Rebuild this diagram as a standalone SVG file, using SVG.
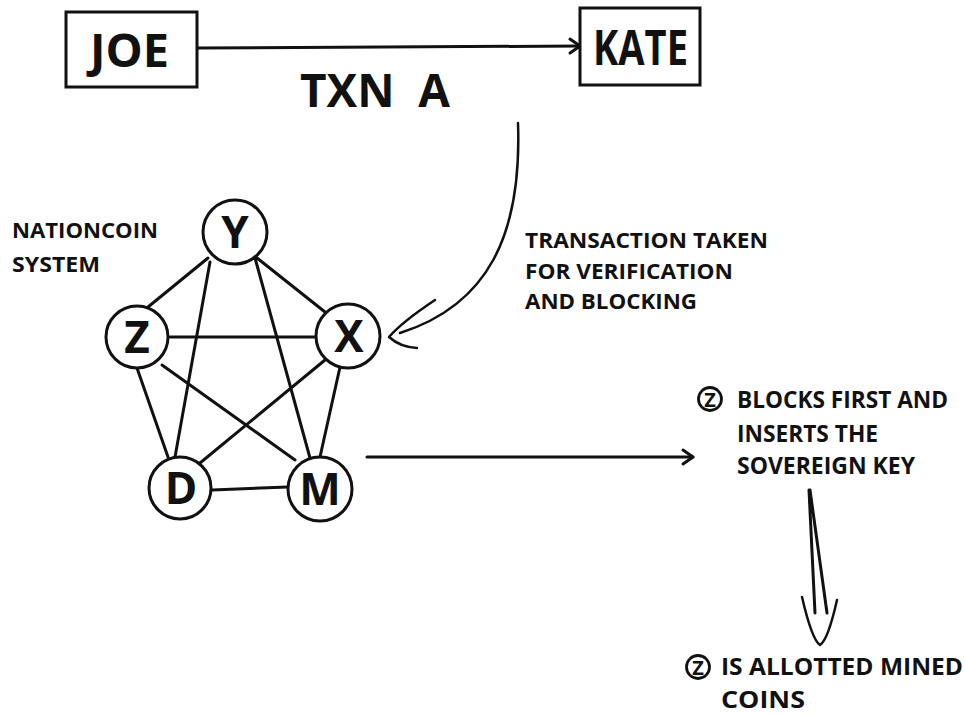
<svg xmlns="http://www.w3.org/2000/svg" width="965" height="715" viewBox="0 0 965 715">
<defs>
<style>
.t{font-family:"Open Sans",Lato,"Liberation Sans",sans-serif;font-weight:700;fill:#111}
.box{fill:#fff;stroke:#111;stroke-width:3}
.node{fill:#fff;stroke:#111;stroke-width:3}
.edge{stroke:#111;stroke-width:3;fill:none;stroke-linecap:round}
.thin{stroke:#111;stroke-width:2.5;fill:none;stroke-linecap:round;stroke-linejoin:round}
.cz{fill:none;stroke:#111;stroke-width:2.8}
</style>
<marker id="arr" markerWidth="20" markerHeight="20" refX="14" refY="10" orient="auto" markerUnits="userSpaceOnUse">
<polyline points="4,3 14,10 4,17" fill="none" stroke="#111" stroke-width="3" stroke-linecap="round" stroke-linejoin="round"/>
</marker>
</defs>
<rect width="965" height="715" fill="#fff"/>

<g id="connectors">
<line class="edge" x1="197" y1="48" x2="580" y2="46" marker-end="url(#arr)"/>
<path class="thin" d="M518,123 C522,235 488,305 400,333"/>
<path class="thin" d="M435,300 Q402,322 389,337 Q400,347 417,348"/>
<line class="edge" x1="208" y1="258" x2="148" y2="307"/>
<line class="edge" x1="257" y1="258" x2="325" y2="312"/>
<line class="edge" x1="210" y1="262" x2="175" y2="457"/>
<line class="edge" x1="255" y1="258" x2="310" y2="458"/>
<line class="edge" x1="170" y1="337" x2="317" y2="337"/>
<line class="edge" x1="137" y1="368" x2="168" y2="457"/>
<line class="edge" x1="162" y1="365" x2="295" y2="460"/>
<line class="edge" x1="325" y1="360" x2="200" y2="463"/>
<line class="edge" x1="340" y1="367" x2="320" y2="457"/>
<line class="edge" x1="212" y1="490" x2="288" y2="487"/>
<line class="edge" x1="367" y1="457" x2="693" y2="457" marker-end="url(#arr)"/>
<path class="edge" d="M809,490 L815,613 M810,490 L827,613"/>
<path class="thin" d="M802,597 Q812,640 820,645 Q828,640 837,600"/>
</g>

<g id="joe">
<rect class="box" x="66" y="12" width="131" height="75"/>
<text class="t" x="90" y="67" font-size="46" textLength="79" lengthAdjust="spacingAndGlyphs">JOE</text>
</g>
<g id="kate">
<rect class="box" x="580" y="8" width="120" height="77"/>
<text class="t" x="593" y="65" font-size="49" textLength="95" lengthAdjust="spacingAndGlyphs">KATE</text>
</g>
<g id="txn">
<text class="t" x="300" y="107" font-size="46" textLength="150" lengthAdjust="spacingAndGlyphs" xml:space="preserve">TXN  A</text>
</g>
<g id="system-label">
<text class="t" x="12" y="238" font-size="21" textLength="146" lengthAdjust="spacingAndGlyphs">NATIONCOIN</text>
<text class="t" x="12" y="272" font-size="21" textLength="88" lengthAdjust="spacingAndGlyphs">SYSTEM</text>
</g>
<g id="verification-label">
<text class="t" x="525" y="248" font-size="22" textLength="243" lengthAdjust="spacingAndGlyphs">TRANSACTION TAKEN</text>
<text class="t" x="525" y="279" font-size="22" textLength="208" lengthAdjust="spacingAndGlyphs">FOR VERIFICATION</text>
<text class="t" x="525" y="309" font-size="22" textLength="172" lengthAdjust="spacingAndGlyphs">AND BLOCKING</text>
</g>

<g id="node-y">
<circle class="node" cx="235" cy="232" r="32"/>
<text class="t" x="235" y="248" font-size="44" text-anchor="middle">Y</text>
</g>
<g id="node-z">
<circle class="node" cx="137" cy="337" r="31"/>
<text class="t" x="137" y="353" font-size="44" text-anchor="middle">Z</text>
</g>
<g id="node-x">
<circle class="node" cx="348" cy="336" r="32"/>
<text class="t" x="349" y="352" font-size="44" text-anchor="middle">X</text>
</g>
<g id="node-d">
<circle class="node" cx="180" cy="488" r="31"/>
<text class="t" x="181" y="504" font-size="44" text-anchor="middle">D</text>
</g>
<g id="node-m">
<circle class="node" cx="320" cy="489" r="32"/>
<text class="t" x="320" y="505" font-size="44" text-anchor="middle">M</text>
</g>

<g id="blocks-note">
<circle class="cz" cx="710" cy="399" r="11.5"/>
<text class="t" x="710" y="406.5" font-size="20" text-anchor="middle">Z</text>
<text class="t" x="737" y="408" font-size="24" textLength="211" lengthAdjust="spacingAndGlyphs">BLOCKS FIRST AND</text>
<text class="t" x="737" y="442" font-size="24" textLength="141" lengthAdjust="spacingAndGlyphs">INSERTS THE</text>
<text class="t" x="737" y="474" font-size="24" textLength="178" lengthAdjust="spacingAndGlyphs">SOVEREIGN KEY</text>
</g>
<g id="allotted-note">
<circle class="cz" cx="698" cy="667" r="11.5"/>
<text class="t" x="698" y="674.5" font-size="20" text-anchor="middle">Z</text>
<text class="t" x="721" y="675" font-size="23" textLength="242" lengthAdjust="spacingAndGlyphs">IS ALLOTTED MINED</text>
<text class="t" x="721" y="708" font-size="23" textLength="84" lengthAdjust="spacingAndGlyphs">COINS</text>
</g>
</svg>
